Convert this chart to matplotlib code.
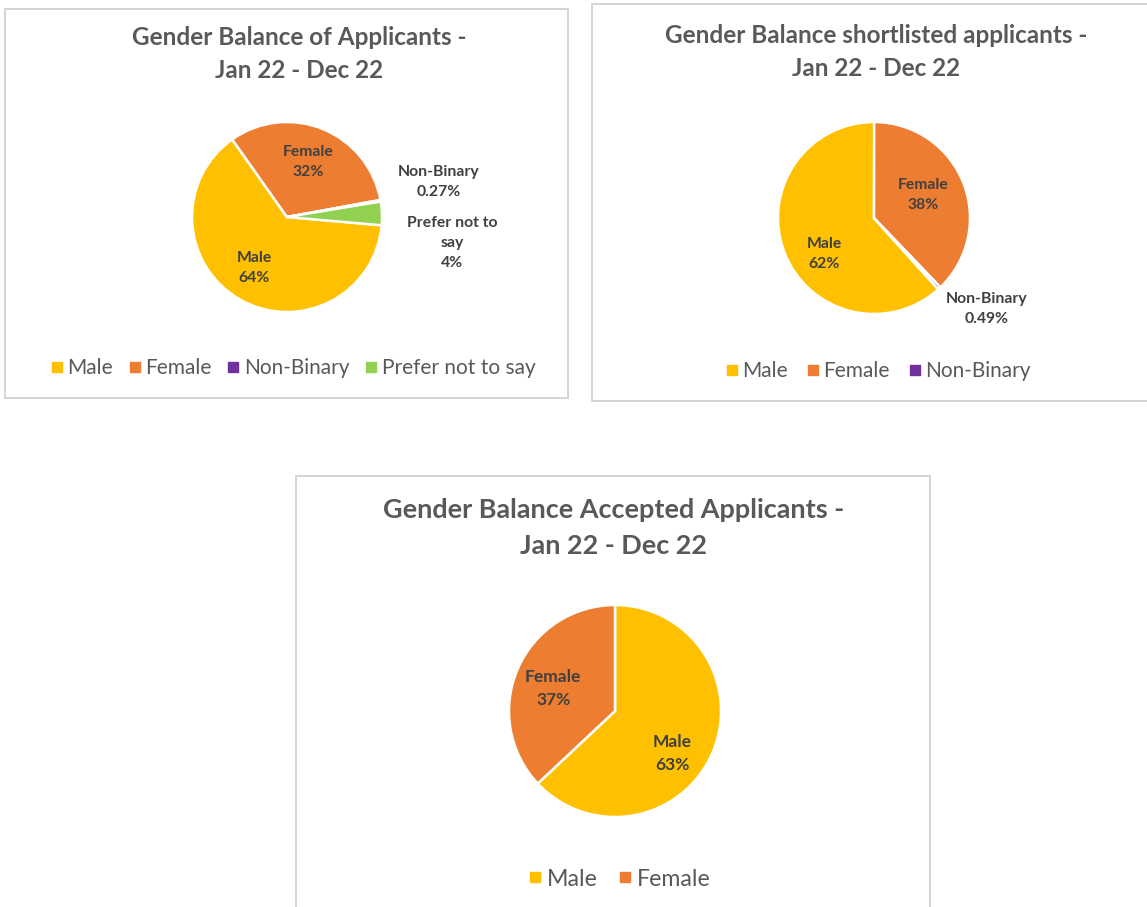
import matplotlib
matplotlib.use("Agg")
import matplotlib.pyplot as plt
from matplotlib.patches import Rectangle
from matplotlib.lines import Line2D
import numpy as np

plt.rcParams['font.family'] = ['Lato', 'DejaVu Sans']

W, H = 1147, 907

# ---- data ----
applicants_labels = ["Male", "Female", "Non-Binary", "Prefer not to say"]
applicants_values = [64, 32, 0.27, 4]
applicants_text = ["64%", "32%", "0.27%", "4%"]

shortlisted_labels = ["Male", "Female", "Non-Binary"]
shortlisted_values = [62, 38, 0.49]
shortlisted_text = ["62%", "38%", "0.49%"]

accepted_labels = ["Male", "Female"]
accepted_values = [63, 37]
accepted_text = ["63%", "37%"]

titles = ["Gender Balance of Applicants -\nJan 22 - Dec 22",
          "Gender Balance shortlisted applicants -\nJan 22 - Dec 22",
          "Gender Balance Accepted Applicants -\nJan 22 - Dec 22"]

colors = {"Male": "#FFC000", "Female": "#ED7D31",
          "Non-Binary": "#7030A0", "Prefer not to say": "#92D050"}

TITLE_C = "#595959"
LABEL_C = "#404040"


def fx(x):
    return x / W


def fy(y):
    return 1 - y / H


fig = plt.figure(figsize=(W / 100, H / 100), dpi=100)

# panel frames (pixel boxes: left, top, right, bottom)
frames = [(5, 9, 568, 398), (592, 4, 1152, 401), (296, 476, 930, 912)]
for l, t, r, b in frames:
    fig.patches.append(Rectangle((fx(l), fy(b)), fx(r) - fx(l), fy(t) - fy(b),
                                 transform=fig.transFigure, facecolor="white",
                                 edgecolor="#D4D4D4", linewidth=1.4, zorder=-10))


def draw_pie(cx, cy, r, labels, values, texts, startangle, label_pos,
             title, title_xy, legend_xy, scale=1.0, colspace=0.8):
    R = 2 * r
    ax = fig.add_axes([fx(cx - R), fy(cy + R), 2 * R / W, 2 * R / H])
    ax.axis("off")
    wedges, _ = ax.pie(values, colors=[colors[k] for k in labels],
                       startangle=startangle, counterclock=False,
                       wedgeprops=dict(edgecolor="white", linewidth=1.8))
    # pie() resets the limits, so set them afterwards
    ax.set_xlim(-2, 2)
    ax.set_ylim(-2, 2)
    ax.set_aspect("equal")
    for w, lab, txt, (dist, dang) in zip(wedges, labels, texts, label_pos):
        mid = np.deg2rad((w.theta1 + w.theta2) / 2 + dang)
        ax.text(dist * np.cos(mid), dist * np.sin(mid),
                lab.replace("Prefer not to say", "Prefer not to\nsay") + "\n" + txt,
                ha="center", va="center", fontsize=11.3 * scale,
                fontweight="bold", color=LABEL_C, linespacing=1.55)
    fig.text(fx(title_xy[0]), fy(title_xy[1]), title, ha="center", va="center",
             fontsize=17.5 * scale, fontweight="bold", color=TITLE_C,
             linespacing=1.55)
    handles = [Line2D([], [], marker="s", ls="", color=colors[k],
                      markersize=6.5 * scale) for k in labels]
    fig.legend(handles, labels, loc="center", ncol=len(labels),
               bbox_to_anchor=(fx(legend_xy[0]), fy(legend_xy[1])),
               frameon=False, fontsize=15 * scale, labelcolor=TITLE_C,
               handletextpad=0.1, columnspacing=colspace, handlelength=0.8)


draw_pie(287, 217, 95, applicants_labels, applicants_values, applicants_text,
         -5, [(0.64, -3), (0.62, 1), (1.64, 3), (1.76, -11)],
         titles[0], (299, 54), (292, 368), colspace=0.65)

draw_pie(874, 218, 96, shortlisted_labels, shortlisted_values, shortlisted_text,
         -48, [(0.64, 15), (0.56, 3), (1.51, 8)],
         titles[1], (876, 52), (877, 371))

draw_pie(615, 711, 106, accepted_labels, accepted_values, accepted_text,
         90, [(0.67, -13), (0.62, 3.5)],
         titles[2], (614, 528), (618, 879), scale=1.11)

fig.savefig("out.png", dpi=100, facecolor="white")
